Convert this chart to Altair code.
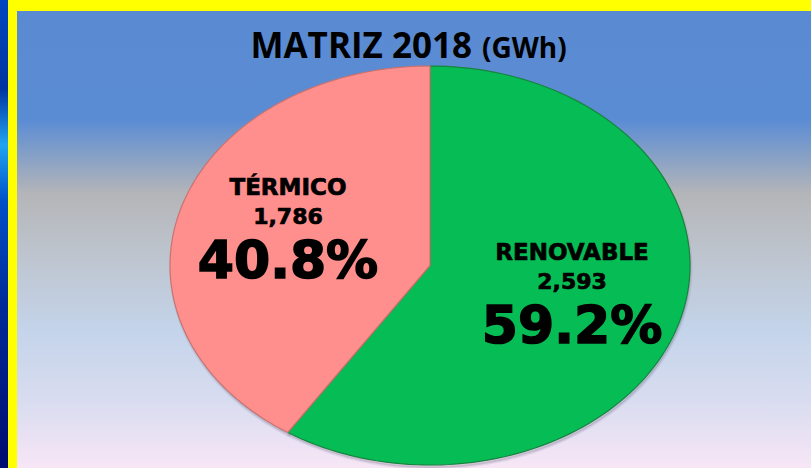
import altair as alt
import pandas as pd

# ---- data ----
categories = ["RENOVABLE", "TÉRMICO"]
values = [2593, 1786]
slice_order = [0, 1]
title_main = "MATRIZ 2018"
title_unit = "(GWh)"

N = 120  # sampling resolution of each slice outline
steps = [-1] + list(range(N + 1)) + [N + 1]

df = pd.DataFrame({
    "category": categories,
    "value": values,
    "ord": slice_order,
})
df["steps"] = [steps for _ in categories]

W, H = 811, 468
CX, CY, RX, RY = 430, 265.5, 260, 199.5
xdom = [-CX / RX, (W - CX) / RX]
ydom = [-(H - CY) / RY, CY / RY]

xs = alt.Scale(domain=xdom, nice=False, zero=False)
ys = alt.Scale(domain=ydom, nice=False, zero=False)

colors = {"RENOVABLE": ("#06bd55", "#17843f"), "TÉRMICO": ("#ff8f8c", "#c97371")}

one = pd.DataFrame({"k": [0]})


def grad(stops):
    return alt.LinearGradient(
        gradient="linear", x1=0, x2=0, y1=0, y2=1,
        stops=[alt.GradientStop(offset=o, color=c) for o, c in stops],
    )


strip = alt.Chart(one).mark_rect(
    color=grad([(0, "#0046c0"), (0.19, "#0034a0"), (0.31, "#22a4f0"),
                (0.43, "#0050c8"), (0.65, "#002a98"), (1, "#000c70")])
).encode(x=alt.value(0), x2=alt.value(8), y=alt.value(0), y2=alt.value(H))

yellow = alt.Chart(one).mark_rect(color="#ffff00").encode(
    x=alt.value(8), x2=alt.value(W), y=alt.value(0), y2=alt.value(H))

bg = alt.Chart(one).mark_rect(
    color=grad([(0, "#5a8ad2"), (0.237, "#5a8cd4"), (0.40, "#b4b5b8"),
                (0.52, "#bdc3cc"), (0.70, "#c4d4ea"), (0.85, "#d8dcf0"),
                (1, "#f7e6f6")])
).encode(x=alt.value(17), x2=alt.value(W), y=alt.value(11), y2=alt.value(H))

base = (
    alt.Chart(df)
    .transform_joinaggregate(total="sum(value)")
    .transform_window(cum="sum(value)", sort=[alt.SortField("ord")])
    .transform_calculate(
        start="(datum.cum - datum.value) / datum.total",
        end="datum.cum / datum.total",
        pct="datum.value / datum.total",
    )
)

outline = (
    base.transform_flatten(["steps"])
    .transform_calculate(
        frac=f"datum.steps < 0 || datum.steps > {N} ? 0 : datum.start + (datum.end - datum.start) * datum.steps / {N}",
        rr=f"datum.steps < 0 || datum.steps > {N} ? 0 : 1",
    )
    .transform_calculate(
        px="datum.rr * sin(2 * PI * datum.frac)",
        py="datum.rr * cos(2 * PI * datum.frac)",
    )
)

enc = dict(
    x=alt.X("px:Q", scale=xs, axis=None),
    y=alt.Y("py:Q", scale=ys, axis=None),
    order=alt.Order("steps:Q"),
)

shadow = outline.mark_line(
    fill="#404060", stroke="#404060", fillOpacity=0.18, strokeOpacity=0.1,
    strokeWidth=3, xOffset=1, yOffset=3,
).encode(detail="category:N", **enc)

slices = []
for cat, (fc, sc) in colors.items():
    slices.append(
        outline.transform_filter(alt.datum.category == cat)
        .mark_line(fill=fc, stroke=sc, strokeWidth=1.2, strokeJoin="round")
        .encode(**enc)
    )

lab = base.transform_calculate(
    mid="(datum.start + datum.end) / 2",
).transform_calculate(
    lx="0.57 * sin(2 * PI * datum.mid)",
    ly="0.57 * cos(2 * PI * datum.mid)",
)

lenc = dict(x=alt.X("lx:Q", scale=xs, axis=None), y=alt.Y("ly:Q", scale=ys, axis=None))
font = "DejaVu Sans"

name_t = lab.mark_text(font=font, fontWeight="bold", fontSize=23, dy=-45,
                       baseline="middle", color="#000", stroke="#000",
                       strokeWidth=0.7).encode(text="category:N", **lenc)
val_t = lab.mark_text(font=font, fontWeight="bold", fontSize=22, dy=-16,
                      baseline="middle", color="#000", stroke="#000",
                      strokeWidth=0.7).encode(
    text=alt.Text("value:Q", format=","), **lenc)
pct_t = lab.mark_text(font=font, fontWeight="bold", fontSize=52, dy=29,
                      baseline="middle", color="#000", stroke="#000",
                      strokeWidth=1.6).encode(
    text=alt.Text("pct:Q", format=".1%"), **lenc)

t1 = alt.Chart(one).mark_text(
    text=title_main, font="Open Sans", fontWeight="bold", fontSize=35,
    align="right", baseline="alphabetic", color="#000"
).encode(x=alt.value(472), y=alt.value(58))
t2 = alt.Chart(one).mark_text(
    text=title_unit, font="Open Sans", fontWeight="bold", fontSize=28,
    align="left", baseline="alphabetic", color="#000"
).encode(x=alt.value(482), y=alt.value(58))

chart = alt.layer(
    strip, yellow, bg, shadow, *slices, name_t, val_t, pct_t, t1, t2
).properties(
    width=W, height=H, padding=0,
    autosize=alt.AutoSizeParams(type="none"),
).configure_view(stroke=None)

chart.save("out.html", embed_options={"renderer": "svg", "actions": False})
